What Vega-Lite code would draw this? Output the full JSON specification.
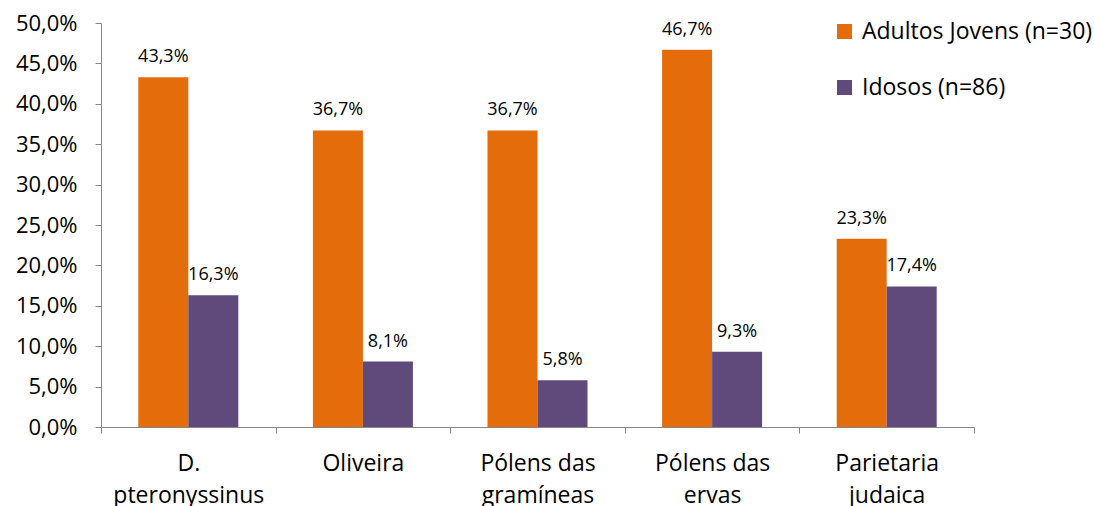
{
  "$schema": "https://vega.github.io/schema/vega-lite/v6.json",
  "width": 873,
  "height": 404,
  "autosize": {"type": "none"},
  "padding": {"left": 101, "top": 23, "right": 120, "bottom": 79},
  "background": "white",
  "config": {
    "view": {"stroke": null},
    "font": "Open Sans",
    "locale": {"number": {"decimal": ",", "thousands": ".", "grouping": [3], "currency": ["", " €"]}}
  },
  "data": {
    "values": [
      {"cat": "D. pteronyssinus", "grupo": "Adultos Jovens (n=30)", "v": 0.433},
      {"cat": "D. pteronyssinus", "grupo": "Idosos (n=86)", "v": 0.163},
      {"cat": "Oliveira", "grupo": "Adultos Jovens (n=30)", "v": 0.367},
      {"cat": "Oliveira", "grupo": "Idosos (n=86)", "v": 0.081},
      {"cat": "Pólens das gramíneas", "grupo": "Adultos Jovens (n=30)", "v": 0.367},
      {"cat": "Pólens das gramíneas", "grupo": "Idosos (n=86)", "v": 0.058},
      {"cat": "Pólens das ervas", "grupo": "Adultos Jovens (n=30)", "v": 0.467},
      {"cat": "Pólens das ervas", "grupo": "Idosos (n=86)", "v": 0.093},
      {"cat": "Parietaria judaica", "grupo": "Adultos Jovens (n=30)", "v": 0.233},
      {"cat": "Parietaria judaica", "grupo": "Idosos (n=86)", "v": 0.174}
    ]
  },
  "encoding": {
    "x": {
      "field": "cat", "type": "nominal", "sort": null, "title": null,
      "scale": {"paddingInner": 0, "paddingOuter": 0},
      "axis": {
        "labelAngle": 0, "labelFontSize": 23, "labelColor": "#000000",
        "labelExpr": "datum.label == 'D. pteronyssinus' ? ['D.', 'pteronyssinus'] : datum.label == 'Pólens das gramíneas' ? ['Pólens das', 'gramíneas'] : datum.label == 'Pólens das ervas' ? ['Pólens das', 'ervas'] : datum.label == 'Parietaria judaica' ? ['Parietaria', 'judaica'] : datum.label",
        "labelLineHeight": 32, "labelPadding": 37, "labelBaseline": "alphabetic",
        "tickBand": "extent", "tickSize": 6, "tickColor": "#868686",
        "domainColor": "#868686", "grid": false
      }
    },
    "xOffset": {"field": "grupo", "type": "nominal", "scale": {"paddingInner": 0, "paddingOuter": 0.746}},
    "y": {
      "field": "v", "type": "quantitative", "title": null,
      "scale": {"domain": [0, 0.5], "nice": false},
      "axis": {
        "values": [0, 0.05, 0.1, 0.15, 0.2, 0.25, 0.3, 0.35, 0.4, 0.45, 0.5],
        "format": ".1%", "labelFontSize": 22, "labelColor": "#000000",
        "labelPadding": 18, "tickSize": 6, "tickColor": "#868686",
        "domainColor": "#868686", "grid": false
      }
    }
  },
  "layer": [
    {
      "mark": {"type": "bar"},
      "encoding": {
        "color": {
          "field": "grupo", "type": "nominal", "title": null,
          "scale": {"domain": ["Adultos Jovens (n=30)", "Idosos (n=86)"], "range": ["#E46C0A", "#604A7B"]},
          "legend": {
            "orient": "none", "legendX": 732, "legendY": -3,
            "symbolType": "square", "symbolSize": 225, "symbolStrokeWidth": 0,
            "labelFontSize": 23, "labelColor": "#000000", "rowPadding": 32, "labelOffset": 6,
            "labelLimit": 300
          }
        }
      }
    },
    {
      "mark": {"type": "text", "dy": -20, "fontSize": 18, "color": "#000000", "font": "Open Sans"},
      "encoding": {
        "text": {"field": "v", "type": "quantitative", "format": ".1%"}
      }
    }
  ]
}
